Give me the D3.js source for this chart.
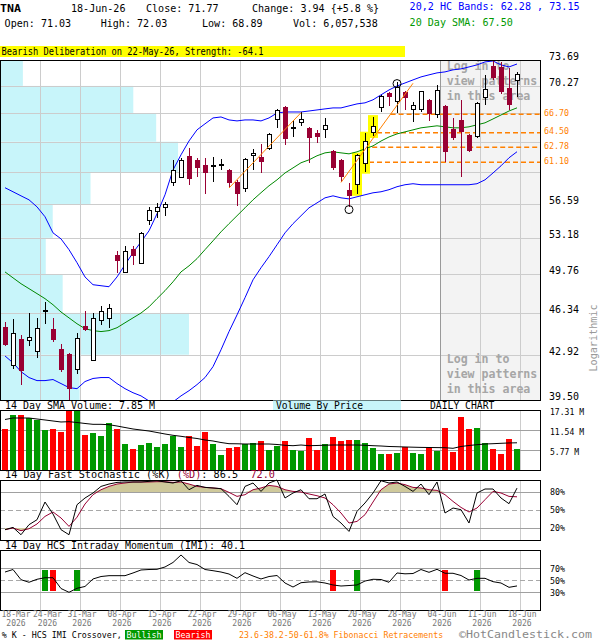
<!DOCTYPE html>
<html>
<head>
<meta charset="utf-8">
<script src="https://cdn.jsdelivr.net/npm/d3@7"></script>
<style>
  body { margin: 0; background: #fff; }
  svg text { font-family: "DejaVu Sans Mono", "Liberation Mono", monospace; }
</style>
</head>
<body>
<div id="chart"></div>
<script>
// TNA daily, 18-Mar-26 .. 18-Jun-26
const open = [45.13, 42.07, 44.20, 44.07, 43.17, 46.51, 45.02, 43.39, 42.98, 41.76,
  45.27, 42.47, 45.70, 45.90, 51.56, 49.93, 52.13, 50.78, 54.88, 55.82,
  56.26, 58.91, 59.44, 61.82, 61.36, 60.80, 60.65, 60.72, 60.23, 58.87,
  58.19, 61.82, 61.67, 62.61, 66.11, 67.66, 65.00, 65.70, 65.10, 64.51,
  64.83, 62.38, 61.36, 58.09, 58.62, 60.99, 64.55, 67.53, 69.34, 68.28,
  69.54, 67.33, 67.33, 68.49, 66.66, 67.74, 64.95, 66.02, 64.23, 64.03,
  68.79, 72.94, 72.73, 69.97, 71.03];
const high = [45.54, 45.84, 44.51, 46.36, 45.95, 47.28, 45.90, 43.77, 43.05, 44.67,
  46.54, 46.31, 46.95, 47.13, 51.94, 52.41, 52.35, 53.80, 56.26, 56.73,
  56.77, 61.36, 61.56, 62.68, 61.62, 61.56, 61.67, 61.44, 60.34, 59.15,
  61.56, 62.57, 63.17, 64.51, 67.30, 67.78, 66.02, 66.95, 65.18, 64.83,
  66.23, 62.49, 61.44, 58.80, 62.01, 64.43, 66.42, 69.13, 69.54, 70.83,
  69.67, 68.28, 69.67, 68.55, 70.39, 67.87, 66.23, 68.49, 64.35, 68.28,
  71.71, 73.69, 73.47, 72.59, 72.03];
const low = [43.63, 41.82, 40.58, 43.58, 42.69, 45.41, 43.93, 41.56, 39.50, 41.44,
  44.80, 42.39, 45.29, 45.08, 49.90, 49.88, 50.62, 50.71, 54.48, 55.15,
  55.31, 58.44, 59.34, 58.62, 59.51, 57.63, 58.97, 60.23, 58.27, 56.42,
  57.84, 60.23, 59.94, 62.49, 65.07, 63.06, 64.03, 65.31, 61.06, 63.25,
  63.84, 60.23, 58.87, 56.32, 57.66, 60.04, 64.11, 67.03, 67.78, 66.83,
  67.24, 65.82, 67.03, 65.90, 66.26, 61.10, 63.63, 59.51, 62.27, 63.84,
  67.89, 71.05, 69.21, 67.24, 68.89];
const close = [43.71, 44.61, 41.64, 44.26, 45.00, 46.55, 44.12, 41.76, 40.31, 44.18,
  44.88, 45.90, 46.48, 46.75, 50.93, 51.82, 51.40, 53.64, 55.89, 56.26,
  56.56, 60.12, 61.25, 59.26, 60.49, 59.87, 60.72, 60.88, 58.80, 57.63,
  61.36, 62.12, 61.17, 64.23, 67.11, 63.75, 65.10, 66.02, 63.91, 64.03,
  65.31, 60.49, 59.44, 57.44, 61.82, 63.51, 65.22, 68.91, 68.91, 70.09,
  68.71, 67.78, 69.54, 66.74, 69.69, 62.30, 63.91, 64.55, 62.38, 68.08,
  69.75, 71.35, 69.54, 67.83, 71.77];
// volume in millions
const volume = [11.83, 15.87, 15.87, 14.91, 14.43, 11.54, 11.83, 10.96, 17.11, 17.31,
  10.10, 10.67, 9.81, 13.56, 11.83, 7.50, 6.06, 7.21, 7.79, 6.64,
  7.50, 9.90, 6.64, 9.81, 6.92, 10.96, 7.50, 4.33, 6.35, 6.64,
  7.50, 7.79, 8.37, 5.77, 6.92, 8.37, 5.77, 5.58, 9.33, 5.77,
  7.50, 9.62, 8.37, 8.75, 8.75, 7.79, 6.45, 4.62, 4.62, 5.00,
  6.73, 4.91, 4.62, 6.45, 5.58, 12.12, 5.19, 15.29, 11.83, 12.12,
  7.79, 6.06, 4.62, 9.04, 6.057538];
const volSma = [14.57, 15.00, 15.00, 15.00, 14.71, 14.43, 14.14, 13.85, 13.94, 13.70,
  13.42, 13.18, 13.18, 13.07, 12.69, 12.26, 11.83, 11.54, 11.25, 10.82,
  10.39, 10.01, 9.72, 9.38, 9.09, 8.66, 8.37, 7.93, 7.59, 7.56,
  7.50, 7.50, 7.50, 7.50, 7.36, 7.13, 7.01, 7.21, 7.01, 7.07,
  7.15, 7.21, 7.21, 7.21, 7.21, 7.13, 7.01, 6.92, 6.78, 6.72,
  6.64, 6.58, 6.52, 6.49, 6.46, 6.43, 6.26, 6.78, 7.07, 7.30,
  7.50, 7.59, 7.70, 7.80, 7.85];
// 20,2 HC bands and 20 day SMA
const bandUpper = [58.30, 57.87, 57.44, 57.02, 56.29, 55.28, 53.67, 53.08, 52.04, 50.81,
  49.50, 48.80, 48.71, 48.62, 49.50, 50.62, 51.75, 52.79, 53.87, 55.58,
  57.55, 60.23, 61.93, 63.52, 64.83, 65.55, 66.26, 66.38, 66.02, 65.90,
  66.02, 66.02, 65.90, 66.26, 66.86, 66.99, 66.99, 66.99, 67.11, 67.24,
  67.37, 67.49, 67.49, 67.74, 67.99, 68.12, 68.50, 69.13, 69.75, 70.26,
  70.65, 71.05, 71.44, 71.71, 71.97, 72.10, 72.37, 72.50, 72.76, 73.03,
  73.43, 73.56, 73.03, 72.76, 73.15];
const sma20 = [49.96, 49.42, 48.89, 48.45, 48.01, 47.57, 47.04, 46.42, 45.92, 45.43,
  45.02, 44.86, 44.78, 44.86, 45.10, 45.51, 45.92, 46.33, 46.86, 47.57,
  48.27, 49.06, 49.96, 50.52, 51.19, 52.04, 52.89, 53.77, 54.58, 55.38,
  56.19, 57.02, 57.77, 58.51, 59.15, 59.90, 60.46, 61.03, 61.36, 61.82,
  62.15, 62.27, 62.15, 62.04, 62.27, 62.61, 62.95, 63.51, 63.99, 64.35,
  64.59, 64.83, 65.07, 65.19, 65.31, 65.19, 65.07, 65.07, 65.19, 65.43,
  65.67, 66.14, 66.62, 67.11, 67.50];
const bandLower = [42.82, 42.29, 41.61, 41.16, 40.93, 40.93, 41.01, 40.71, 40.41, 40.33,
  40.86, 41.09, 41.16, 41.16, 40.71, 40.33, 40.03, 39.80, 39.43, 39.21,
  39.21, 39.36, 39.80, 40.18, 40.63, 41.16, 41.99, 43.31, 44.78, 46.17,
  47.65, 49.24, 50.34, 51.38, 52.51, 53.67, 54.58, 55.38, 56.19, 56.70,
  57.23, 57.44, 57.23, 57.12, 57.34, 57.55, 57.76, 57.87, 58.09, 58.41,
  58.62, 58.73, 58.62, 58.62, 58.62, 58.62, 58.62, 58.62, 58.62, 58.73,
  59.15, 59.90, 60.69, 61.59, 62.28];
const stochK = [17.2, 21, 8.8, 25.5, 33.8, 63.3, 43.3, 17.2, 8.8, 58.8,
  70, 78.3, 89.3, 93.3, 96, 96.7, 96.7, 96.7, 97.7, 98.8,
  96.7, 95, 98.8, 83.8, 91, 87.7, 86.7, 85.5, 72.7, 58.8,
  89.3, 95, 81, 95, 100, 70, 78.3, 83.8, 68.8, 68.8,
  76.7, 39.3, 28.3, 14.3, 47.7, 61.7, 78.3, 98.8, 95, 96.7,
  89.3, 81, 93.3, 75.5, 96.7, 45, 53.3, 50.5, 28.3, 78.3,
  85, 85, 70, 60.5, 86.5];
const stochD = [17.2, 20, 15.5, 18.8, 26.7, 39.3, 46.7, 36.7, 22.7, 38,
  60, 75.5, 83.8, 89.3, 93.3, 95, 96.7, 96.7, 96.7, 97.2,
  97.2, 96, 96.7, 93.3, 89.3, 87.7, 86.7, 85.5, 79.3, 72.7,
  75.5, 83.8, 86.7, 91, 89.3, 83.8, 81, 80, 76.7, 73.8,
  70, 58.8, 45, 28.3, 31, 42.2, 63.3, 83.8, 93.3, 95,
  92.2, 87.7, 86.7, 83.8, 82.7, 75.5, 64.3, 54.3, 46.7, 53.3,
  67.2, 81, 78.3, 72.7, 72.0];
const imi = [63.3, 67.5, 50.5, 46.2, 51.2, 53.8, 53.8, 35.8, 29.5, 36.2,
  39.2, 51.7, 55.8, 57.2, 57.2, 57.2, 61.7, 66.7, 67.5, 67.8,
  71.7, 79.2, 91.7, 79.2, 75.8, 67.5, 65.5, 63.3, 60, 52.8,
  62.2, 56.7, 51.7, 55.8, 57.5, 45, 38.3, 45.5, 46.7, 47,
  45, 41.7, 40, 40.8, 41.7, 48.3, 51.2, 50.8, 46.2, 61.7,
  60.3, 60.8, 67.5, 62.8, 67.8, 61.2, 61.2, 57.5, 50, 52.8,
  52.8, 47.2, 45, 37.8, 40.1];
const imiBullish = [5, 9, 44, 59];
const imiBearish = [6, 41, 55];

// axis ticks
const tickBars = [0, 4, 9, 14, 19, 24, 29, 34, 39, 44, 49, 54, 59, 64];
const tickLabels = ["18-Mar", "24-Mar", "31-Mar", "08-Apr", "15-Apr", "22-Apr", "29-Apr",
  "06-May", "13-May", "20-May", "28-May", "04-Jun", "11-Jun", "18-Jun"];
const tickYear = "2026";
const priceTicks = [39.50, 42.92, 46.34, 49.76, 53.18, 56.59, 60.01, 63.43, 66.85, 70.27, 73.69];
const volTicks = [5.77, 11.54, 17.31];
const stochTicks = [20, 50, 80];
const imiTicks = [30, 50, 70];

// volume by price, one zone per price tick interval (bottom to top), millions
const vbpVolume = [47.4, 113.4, 37.2, 27.0, 31.2, 54.0, 106.8, 93.6, 79.8, 13.2];

// pattern and overlays
const patternText = "Bearish Deliberation on 22-May-26, Strength: -64.1";
const patternBars = [44, 45, 46];
const fibLevels = [66.70, 64.50, 62.78, 61.10];
const fibStartBar = [48.2, 46.5, 45.9, 45.5];
const trendLines = [[[28, 58.27], [37, 66.90]], [[42, 58.87], [51, 70.61]]];
const swingMarks = [{bar: 43, at: "low"}, {bar: 49, at: "high"}];
const hiddenFromBar = 55; // "log in" area

const n = close.length;
const last = n - 1;
const maroon = "#990033", green = "#009900", red = "#ff0000", orange = "#ff8000";

const svg = d3.select("#chart").append("svg")
  .attr("width", 600).attr("height", 640)
  .style("display", "block");

function label(g, s, px, py, o = {}) {
  const t = g.append("text")
    .attr("x", px).attr("y", py)
    .attr("font-size", o.size || 10)
    .attr("fill", o.fill || "#000")
    .attr("text-anchor", o.anchor || "start")
    .text(s);
  if (o.bold) t.attr("font-weight", "bold");
  if (o.cw) t.attr("textLength", s.length * o.cw).attr("lengthAdjust", "spacingAndGlyphs");
  return t;
}

// scales
const x = d3.scaleBand().domain(d3.range(n)).range([1, 521]);
const cx = (i) => x(i) + x.bandwidth() / 2;
const gx = (i) => x(i) + x.bandwidth();
const xb = (b) => x(0) + x.bandwidth() / 2 + b * x.bandwidth();
const y = d3.scaleLog().domain([39.50, 73.69]).range([400, 60]);
const yv = d3.scaleLinear().domain([0, 17.31]).range([470, 410]);
const ys = d3.scaleLinear().domain([0, 100]).range([540, 480]);
const ym = d3.scaleLinear().domain([0, 100]).range([610, 550]);
const vbpX = d3.scaleLinear().domain([0, d3.max(vbpVolume)]).range([0, 188]);

// ---------------- header ----------------
const f2 = d3.format(".2f");
const chg = close[last] - close[last - 1];
label(svg, "TNA", 0, 12, {bold: true, size: 11, cw: 7});
label(svg, "18-Jun-26", 71, 12, {cw: 6.05});
label(svg, "Close: " + f2(close[last]), 146, 12, {cw: 6.05});
label(svg, `Change: ${f2(chg)} {${d3.format("+.1f")(chg / close[last - 1] * 100)} %}`, 252, 12, {cw: 6.05});
label(svg, "Open: " + f2(open[last]), 4.6, 27, {cw: 6.05});
label(svg, "High: " + f2(high[last]), 100.7, 27, {cw: 6.05});
label(svg, "Low: " + f2(low[last]), 202, 27, {cw: 6.05});
label(svg, "Vol: " + d3.format(",")(Math.round(volume[last] * 1e6)), 293, 27, {cw: 6.05});
label(svg, `20,2 HC Bands: ${f2(bandLower[last])} , ${f2(bandUpper[last])}`, 409.6, 10, {cw: 6.07, fill: "#0000ff"});
label(svg, "20 Day SMA: " + f2(sma20[last]), 409.6, 26, {cw: 6.07, fill: green});

svg.append("rect").attr("x", 0).attr("y", 46).attr("width", 405).attr("height", 11).attr("fill", "#ffff00");
label(svg, patternText, 1.5, 55, {cw: 5.24});

// ---------------- price panel ----------------
svg.append("clipPath").attr("id", "clipMain")
  .append("rect").attr("x", 1).attr("y", 60.5).attr("width", 539).attr("height", 339.5);
const main = svg.append("g").attr("clip-path", "url(#clipMain)");

main.append("rect")
  .attr("x", x(hiddenFromBar)).attr("y", 60).attr("width", 540 - x(hiddenFromBar)).attr("height", 340)
  .attr("fill", "#f3f3f3");

main.append("g").selectAll("rect")
  .data(vbpVolume)
  .join("rect")
  .attr("x", 1)
  .attr("y", (d, k) => y(priceTicks[k + 1]))
  .attr("height", (d, k) => y(priceTicks[k]) - y(priceTicks[k + 1]))
  .attr("width", (d) => vbpX(d))
  .attr("fill", "#c8f5fa");

const gridMain = main.append("g").attr("stroke", "#cccccc").attr("shape-rendering", "crispEdges");
gridMain.selectAll(".h")
  .data(priceTicks.slice(1, -1))
  .join("line")
  .attr("x1", 0).attr("x2", 540)
  .attr("y1", (d) => Math.round(y(d)) + 0.5).attr("y2", (d) => Math.round(y(d)) + 0.5);
gridMain.selectAll(".v")
  .data(tickBars.slice(1))
  .join("line")
  .attr("x1", (d) => gx(d) - 0.5).attr("x2", (d) => gx(d) - 0.5)
  .attr("y1", 60).attr("y2", 400)
  .attr("stroke", (d) => (d === hiddenFromBar - 1 ? "#999999" : null));

const loginText = ["Log in to", "view patterns", "in this area"];
[69.5, 363].forEach((top) => {
  loginText.forEach((s, k) => {
    label(main, s, 446.7, top + k * 15, {size: 11.5, cw: 6.97, fill: "#a6a6a6", bold: true});
  });
});

// fibonacci retracements
main.append("g").selectAll("line")
  .data(fibLevels)
  .join("line")
  .attr("x1", (d, k) => xb(fibStartBar[k])).attr("x2", 540)
  .attr("y1", (d) => y(d)).attr("y2", (d) => y(d))
  .attr("stroke", orange).attr("stroke-width", 1.5).attr("stroke-dasharray", "5,3");

// pattern highlight
main.append("g").selectAll("rect")
  .data(patternBars)
  .join("rect")
  .attr("x", (i) => cx(i) - 5).attr("width", 10)
  .attr("y", (i) => y(high[i]) - 1.5)
  .attr("height", (i) => y(low[i]) - y(high[i]) + 3.5)
  .attr("fill", "#ffff00");

// bands and SMA
const lineOf = (arr, sc) => d3.line().x((d, i) => cx(i)).y((d) => sc(d))(arr);
main.append("path").attr("d", lineOf(bandUpper, y)).attr("fill", "none").attr("stroke", "#0000ff");
main.append("path").attr("d", lineOf(bandLower, y)).attr("fill", "none").attr("stroke", "#0000ff");
main.append("path").attr("d", lineOf(sma20, y)).attr("fill", "none").attr("stroke", "#008800");

// candles
const idx = d3.range(n);
const candles = main.append("g").attr("shape-rendering", "crispEdges");
candles.selectAll("line")
  .data(idx)
  .join("line")
  .attr("x1", (i) => cx(i)).attr("x2", (i) => cx(i))
  .attr("y1", (i) => y(high[i])).attr("y2", (i) => y(low[i]))
  .attr("stroke", (i) => (close[i] >= open[i] ? "#000" : maroon));
candles.selectAll("rect")
  .data(idx)
  .join("rect")
  .attr("x", (i) => cx(i) - (close[i] >= open[i] ? 2 : 2.5))
  .attr("width", (i) => (close[i] >= open[i] ? 4 : 5))
  .attr("y", (i) => y(Math.max(open[i], close[i])))
  .attr("height", (i) => Math.max(1, y(Math.min(open[i], close[i])) - y(Math.max(open[i], close[i]))))
  .attr("fill", (i) => (close[i] >= open[i] ? "#fff" : maroon))
  .attr("stroke", (i) => (close[i] >= open[i] ? "#000" : "none"));

// trend lines and swing marks
main.append("g").selectAll("line")
  .data(trendLines)
  .join("line")
  .attr("x1", (d) => cx(d[0][0])).attr("y1", (d) => y(d[0][1]))
  .attr("x2", (d) => cx(d[1][0])).attr("y2", (d) => y(d[1][1]))
  .attr("stroke", orange).attr("stroke-width", 1);
main.append("g").selectAll("circle")
  .data(swingMarks)
  .join("circle")
  .attr("cx", (d) => cx(d.bar))
  .attr("cy", (d) => (d.at === "low" ? y(low[d.bar]) + 3 : y(high[d.bar]) + 2))
  .attr("r", 4)
  .attr("fill", "none").attr("stroke", "#000");

svg.append("rect").attr("x", 0.5).attr("y", 60.5).attr("width", 540).attr("height", 340)
  .attr("fill", "none").attr("stroke", "#000");

// price axis labels (skip ticks crowded by fib labels)
priceTicks.forEach((t) => {
  if (fibLevels.some((f) => Math.abs(y(f) - y(t)) < 10)) return;
  label(svg, f2(t), 549, y(t), {size: 10, cw: 6});
});
fibLevels.forEach((f) => label(svg, f2(f), 544, y(f) + 1.5, {size: 8, cw: 5, fill: orange}));
label(svg, "Logarithmic", 0, 0, {size: 10, cw: 6.1, fill: "#999", anchor: "middle"})
  .attr("transform", "translate(597,338) rotate(-90)");

// ---------------- volume panel ----------------
label(svg, `14 Day SMA Volume: ${volSma[last].toFixed(2)} M`, 5, 409, {cw: 6});
svg.append("rect").attr("x", 273).attr("y", 400.5).attr("width", 128).attr("height", 9.5).attr("fill", "#c8f5fa");
label(svg, "Volume By Price", 276, 409, {cw: 5.8});
label(svg, "DAILY CHART", 430, 409, {cw: 5.85});

const vol = svg.append("g");
vol.append("g").attr("stroke", "#cccccc").attr("shape-rendering", "crispEdges")
  .selectAll("line").data(tickBars.slice(1)).join("line")
  .attr("x1", (d) => gx(d) - 0.5).attr("x2", (d) => gx(d) - 0.5).attr("y1", 410).attr("y2", 470);
vol.append("g").attr("stroke", "#a0a0a0").attr("shape-rendering", "crispEdges")
  .selectAll("line").data(volTicks.slice(0, -1)).join("line")
  .attr("x1", 0).attr("x2", 540).attr("y1", (d) => yv(d) + 0.5).attr("y2", (d) => yv(d) + 0.5);
vol.append("g").attr("shape-rendering", "crispEdges")
  .selectAll("rect").data(idx).join("rect")
  .attr("x", (i) => cx(i) - 3).attr("width", 6)
  .attr("y", (i) => yv(volume[i])).attr("height", (i) => yv(0) - yv(volume[i]))
  .attr("fill", (i) => (close[i] >= open[i] ? green : red));
vol.append("path").attr("d", lineOf(volSma, yv)).attr("fill", "none").attr("stroke", "#000");
vol.append("rect").attr("x", 0.5).attr("y", 410.5).attr("width", 540).attr("height", 60)
  .attr("fill", "none").attr("stroke", "#000");
volTicks.forEach((t) => label(svg, f2(t) + " M", 550, yv(t) + 4.5, {size: 9, cw: 4.86}));

// ---------------- stochastic panel ----------------
const st = svg.append("text").attr("x", 5).attr("y", 478).attr("font-size", 10)
  .attr("textLength", 45 * 6).attr("lengthAdjust", "spacingAndGlyphs");
st.append("tspan").text("14 Day Fast Stochastic (%K)\u00a0");
st.append("tspan").attr("fill", maroon).text("(%D)");
st.append("tspan").text(": " + stochK[last].toFixed(1) + "\u00a0\u00a0");
st.append("tspan").attr("fill", maroon).text(stochD[last].toFixed(1));

function oscPanel(sc, top, ticks) {
  const g = svg.append("g");
  g.append("g").attr("stroke", "#cccccc").attr("shape-rendering", "crispEdges")
    .selectAll("line").data(tickBars.slice(1)).join("line")
    .attr("x1", (d) => gx(d) - 0.5).attr("x2", (d) => gx(d) - 0.5).attr("y1", top).attr("y2", top + 60);
  g.append("g").attr("shape-rendering", "crispEdges")
    .selectAll("line").data(ticks).join("line")
    .attr("x1", 0).attr("x2", 540)
    .attr("y1", (d) => sc(d) + 0.5).attr("y2", (d) => sc(d) + 0.5)
    .attr("stroke", (d) => (d === 50 ? "#a8a8a8" : "#a0a0a0"))
    .attr("stroke-dasharray", (d) => (d === 50 ? "5,3" : null));
  return g;
}

const sto = oscPanel(ys, 480, stochTicks);
sto.append("path")
  .attr("d", d3.area().x((d, i) => cx(i)).y0(ys(80)).y1((d) => ys(Math.max(d, 80)))(stochD))
  .attr("fill", "#cfc99b");
sto.append("path")
  .attr("d", d3.area().x((d, i) => cx(i)).y0(ys(20)).y1((d) => ys(Math.min(d, 20)))(stochD))
  .attr("fill", "#cfc99b");
sto.append("path").attr("d", lineOf(stochD, ys)).attr("fill", "none").attr("stroke", maroon);
sto.append("path").attr("d", lineOf(stochK, ys)).attr("fill", "none").attr("stroke", "#000");
sto.append("rect").attr("x", 0.5).attr("y", 480.5).attr("width", 540).attr("height", 60)
  .attr("fill", "none").attr("stroke", "#000");
stochTicks.forEach((t) => label(svg, t + "%", 550, ys(t) + 3, {size: 9, cw: 5}));

// ---------------- IMI panel ----------------
label(svg, `14 Day HCS Intraday Momentum (IMI): ${imi[last].toFixed(1)}`, 5, 549, {cw: 6});
const mom = oscPanel(ym, 550, imiTicks);
const signals = imiBullish.map((b) => ({bar: b, c: green})).concat(imiBearish.map((b) => ({bar: b, c: red})));
mom.append("g").attr("shape-rendering", "crispEdges")
  .selectAll("rect").data(signals).join("rect")
  .attr("x", (d) => cx(d.bar) - 3).attr("width", 6)
  .attr("y", ym(70) + 2).attr("height", ym(30) - ym(70) - 3)
  .attr("fill", (d) => d.c);
mom.append("path").attr("d", lineOf(imi, ym)).attr("fill", "none").attr("stroke", "#000");
mom.append("rect").attr("x", 0.5).attr("y", 550.5).attr("width", 540).attr("height", 60)
  .attr("fill", "none").attr("stroke", "#000");
imiTicks.forEach((t) => label(svg, t + "%", 550, ym(t) + 3.5, {size: 9, cw: 5}));

// ---------------- date axis ----------------
let prevEnd = -Infinity;
tickBars.forEach((b, k) => {
  const s = tickLabels[k];
  const w = s.length * 4.83;
  const start = Math.max(gx(b) + 1 - w / 2, prevEnd + 2.5, 1.5);
  prevEnd = start + w;
  label(svg, s, start + w / 2, 617, {size: 8, cw: 4.83, fill: "#777", anchor: "middle"});
  label(svg, tickYear, start + w / 2, 626, {size: 8, cw: 4.83, fill: "#777", anchor: "middle"});
});

// ---------------- legend ----------------
label(svg, "% K - HCS IMI Crossover,", 1.7, 638, {size: 8.5, cw: 5});
svg.append("rect").attr("x", 125).attr("y", 630).attr("width", 38).attr("height", 9.5).attr("fill", green);
label(svg, "Bullish", 144, 638, {size: 8.5, cw: 5, fill: "#fff", anchor: "middle"});
svg.append("rect").attr("x", 174).attr("y", 630).attr("width", 38).attr("height", 9.5).attr("fill", red);
label(svg, "Bearish", 193, 638, {size: 8.5, cw: 5, fill: "#fff", anchor: "middle"});
label(svg, "23.6-38.2-50-61.8% Fibonacci Retracements", 239, 638, {size: 8.5, cw: 4.98, fill: orange});
label(svg, "\u00a9HotCandlestick.com", 459, 637.5, {size: 10, cw: 7.0, fill: "#888"});
</script>
</body>
</html>
